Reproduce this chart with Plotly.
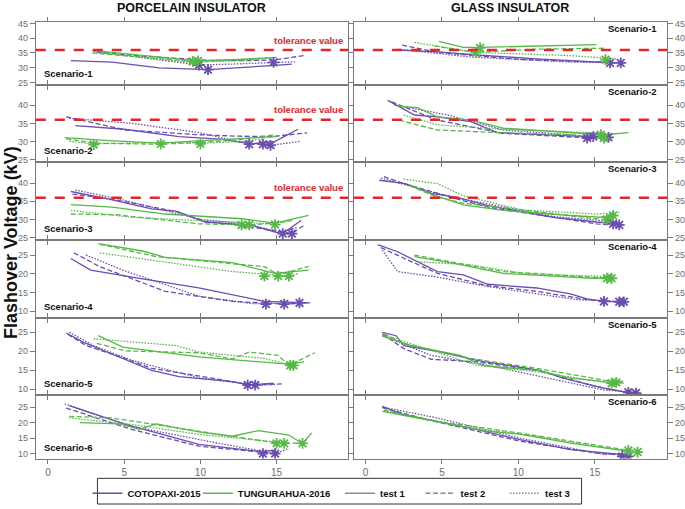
import plotly.graph_objects as go

# ---------------- DATA ----------------
# x: position on the shared 0-15 axis, y: flashover voltage (kV)
# Porcelain insulator
por1_cot_t1 = [(1.5, 32.4), (4.2, 31.9), (7.3, 29.9), (10.5, 29.3), (14.9, 30.8), (16.0, 31.2)]
por1_cot_t2 = [(3.2, 35.3), (6.0, 34.0), (9.0, 33.0), (10.5, 32.5), (13.0, 32.4), (14.8, 32.6), (16.8, 34.1)]
por1_cot_t3 = [(3.0, 35.5), (6.0, 33.6), (9.9, 30.9), (12.5, 31.3), (14.8, 31.8), (16.2, 32.0)]
por1_grn_t1 = [(2.9, 35.9), (5.5, 34.6), (8.0, 33.2), (9.8, 32.3), (12.5, 32.8), (15.0, 33.5)]
por1_grn_t2 = [(2.9, 35.0), (5.5, 33.8), (8.0, 32.8), (9.5, 32.1), (12.0, 32.4), (14.7, 33.4)]
por1_grn_t3 = [(3.4, 35.1), (6.0, 33.5), (8.0, 32.5), (9.5, 31.8), (12.0, 32.3), (14.0, 32.8)]
por1_cot_stars = [(9.9, 30.9), (10.5, 29.3), (14.8, 31.8)]
por1_grn_stars = [(9.5, 32.1), (9.85, 32.3)]

por2_cot_t1 = [(1.8, 34.4), (5.0, 33.4), (8.6, 31.4), (11.5, 30.6), (13.3, 29.4), (14.9, 30.1), (16.4, 33.4)]
por2_cot_t2 = [(1.2, 36.8), (5.1, 33.2), (9.9, 31.9), (12.5, 31.5), (14.7, 31.4), (17.0, 32.4)]
por2_cot_t3 = [(1.4, 36.4), (5.5, 35.0), (9.9, 32.5), (12.5, 30.0), (14.6, 29.0), (16.6, 30.1)]
por2_grn_t1 = [(1.1, 31.1), (4.0, 30.3), (7.3, 29.6), (9.9, 30.2), (12.5, 30.8), (15.0, 31.4)]
por2_grn_t2 = [(1.2, 30.8), (3.0, 29.6), (7.3, 29.3), (10.0, 29.8), (12.5, 30.5), (14.9, 31.9)]
por2_grn_t3 = [(1.4, 30.1), (3.0, 29.4), (7.4, 29.8), (10.0, 29.6), (12.5, 30.0), (14.2, 30.8)]
por2_cot_stars = [(13.2, 29.3), (14.1, 29.3), (14.6, 29.0)]
por2_grn_stars = [(3.0, 29.2), (7.4, 29.4), (10.0, 29.4)]

por3_cot_t1 = [(1.5, 37.7), (4.0, 35.6), (6.8, 32.9), (8.4, 32.3), (10.3, 29.3), (13.4, 28.4), (14.9, 26.5), (15.4, 26.1), (16.6, 29.7)]
por3_cot_t2 = [(1.6, 37.0), (4.2, 35.6), (8.6, 32.0), (10.3, 29.5), (13.4, 27.9), (16.0, 26.1), (16.8, 28.4)]
por3_cot_t3 = [(1.8, 38.1), (4.5, 35.8), (6.8, 33.4), (10.0, 30.0), (13.0, 28.8), (15.3, 26.5), (16.4, 27.9)]
por3_grn_t1 = [(1.5, 34.1), (4.2, 33.4), (7.7, 31.5), (12.7, 30.2), (14.9, 29.0), (17.1, 31.1)]
por3_grn_t2 = [(1.5, 31.5), (4.5, 31.3), (9.9, 28.8), (13.2, 28.5), (14.9, 29.0), (16.0, 29.7)]
por3_grn_t3 = [(1.5, 32.5), (5.5, 30.6), (9.9, 29.7), (12.5, 29.2), (14.9, 28.8), (15.8, 29.7)]
por3_cot_stars = [(15.4, 26.1), (16.0, 26.1)]
por3_grn_stars = [(12.7, 28.5), (13.2, 28.5), (14.9, 28.6)]

por4_cot_t1 = [(1.5, 24.1), (2.8, 21.0), (6.0, 18.8), (9.9, 16.2), (14.2, 12.6), (16.4, 12.2), (17.2, 12.2)]
por4_cot_t2 = [(1.7, 25.6), (3.4, 21.9), (7.7, 15.3), (12.1, 12.6), (15.5, 11.9), (17.0, 12.2)]
por4_cot_t3 = [(2.5, 25.0), (4.9, 21.0), (9.9, 14.0), (13.4, 12.0), (16.4, 12.2)]
por4_grn_t1 = [(3.3, 28.1), (6.2, 26.1), (7.7, 24.4), (12.1, 23.0), (14.9, 20.1), (17.1, 21.0)]
por4_grn_t2 = [(3.4, 27.9), (7.1, 24.6), (14.2, 21.9), (15.1, 19.7), (17.1, 22.0)]
por4_grn_t3 = [(3.4, 25.6), (7.7, 23.2), (12.1, 20.6), (15.8, 19.4), (16.4, 20.0)]
por4_cot_stars = [(14.3, 11.9), (15.5, 11.9), (16.5, 12.2)]
por4_grn_stars = [(14.2, 19.4), (15.1, 19.4), (15.8, 19.4)]

por5_cot_t1 = [(1.2, 24.8), (2.3, 22.4), (4.9, 18.1), (6.8, 15.0), (8.6, 13.3), (12.1, 12.0), (13.2, 11.1), (14.8, 11.6)]
por5_cot_t2 = [(1.3, 24.5), (2.5, 21.5), (4.9, 18.3), (6.8, 15.5), (10.8, 12.9), (13.2, 11.2), (15.4, 11.4)]
por5_cot_t3 = [(1.4, 25.0), (3.0, 21.5), (5.5, 17.6), (9.9, 13.0), (13.8, 11.0), (14.9, 11.3)]
por5_grn_t1 = [(3.3, 24.1), (4.9, 21.1), (9.9, 18.5), (13.2, 17.5), (15.8, 16.6), (16.8, 17.2)]
por5_grn_t2 = [(3.2, 22.1), (5.1, 20.1), (9.9, 19.6), (12.1, 18.0), (13.2, 19.8), (15.1, 18.9), (15.8, 16.3), (17.5, 19.6)]
por5_grn_t3 = [(3.0, 23.3), (8.4, 21.5), (9.9, 19.8), (14.2, 18.1), (16.0, 16.3)]
por5_cot_stars = [(13.1, 11.1), (13.6, 11.1)]
por5_grn_stars = [(15.9, 16.3), (16.1, 16.3)]

por6_cot_t1 = [(1.4, 25.5), (2.5, 23.6), (5.1, 19.4), (9.9, 13.0), (14.0, 10.6), (14.9, 11.1)]
por6_cot_t2 = [(1.2, 24.7), (5.5, 17.8), (9.9, 12.4), (14.0, 10.3), (15.0, 10.0)]
por6_cot_t3 = [(1.1, 26.0), (5.5, 18.8), (11.0, 13.5), (14.9, 10.0), (15.8, 11.7)]
por6_grn_t1 = [(2.1, 20.0), (4.7, 19.6), (6.0, 17.8), (7.1, 19.6), (9.9, 17.0), (12.1, 15.6), (13.8, 17.4), (15.8, 16.0), (16.7, 13.2), (17.3, 16.7)]
por6_grn_t2 = [(1.4, 22.0), (4.2, 21.5), (9.9, 17.2), (14.9, 13.5), (16.7, 13.3)]
por6_grn_t3 = [(1.4, 21.5), (5.5, 19.4), (9.9, 16.2), (14.2, 14.0), (15.5, 13.5)]
por6_cot_stars = [(14.1, 10.0), (14.9, 10.0)]
por6_grn_stars = [(15.0, 13.3), (15.5, 13.3), (16.7, 13.3)]

# Glass insulator
gla1_cot_t1 = [(2.1, 36.0), (4.7, 35.4), (7.3, 34.3), (11.2, 33.0), (16.0, 31.7)]
gla1_cot_t2 = [(2.4, 37.7), (4.7, 35.2), (10.1, 32.8), (15.6, 31.6), (16.7, 31.6)]
gla1_cot_t3 = [(2.1, 36.3), (6.9, 33.6), (13.4, 31.9), (16.2, 31.9)]
gla1_grn_t1 = [(4.8, 38.9), (6.4, 36.9), (7.5, 36.9), (15.1, 37.8)]
gla1_grn_t2 = [(4.5, 37.4), (7.2, 35.2), (11.2, 36.3), (15.6, 36.6)]
gla1_grn_t3 = [(3.2, 38.6), (7.1, 35.2), (13.4, 34.1), (16.4, 33.0)]
gla1_cot_stars = [(16.0, 31.6), (16.7, 31.6)]
gla1_grn_stars = [(7.5, 36.7), (7.2, 35.2), (15.7, 32.7)]

gla2_cot_t1 = [(1.45, 41.3), (3.2, 37.3), (4.7, 36.8), (6.9, 35.5), (8.6, 32.5), (14.5, 31.4), (16.0, 31.4)]
gla2_cot_t2 = [(1.7, 40.9), (4.7, 35.9), (9.0, 32.3), (14.7, 31.0), (15.6, 31.4)]
gla2_cot_t3 = [(1.9, 40.0), (5.4, 37.3), (9.0, 33.2), (13.4, 31.9), (15.1, 31.0)]
gla2_grn_t1 = [(2.1, 39.7), (3.4, 39.3), (4.7, 36.8), (6.9, 35.9), (9.0, 33.7), (14.5, 32.3), (15.6, 31.9), (17.2, 32.5)]
gla2_grn_t2 = [(2.2, 35.9), (4.7, 33.2), (8.0, 32.6), (13.4, 31.9), (15.6, 31.0)]
gla2_grn_t3 = [(2.5, 37.3), (4.7, 34.6), (9.0, 33.4), (15.6, 32.3)]
gla2_cot_stars = [(14.5, 31.0), (14.9, 31.4), (15.9, 31.2)]
gla2_grn_stars = [(15.4, 31.9), (15.6, 31.0)]

gla3_cot_t1 = [(0.9, 40.8), (2.6, 39.9), (4.3, 37.2), (6.0, 36.1), (8.0, 33.8), (12.3, 30.6), (15.1, 29.3), (16.6, 28.8)]
gla3_cot_t2 = [(1.2, 41.8), (2.5, 39.9), (6.0, 35.6), (8.0, 33.4), (15.1, 28.8), (16.6, 28.4)]
gla3_cot_t3 = [(1.0, 41.4), (4.3, 37.6), (6.0, 35.9), (12.3, 30.8), (16.6, 29.3)]
gla3_grn_t1 = [(2.8, 39.7), (4.3, 37.0), (6.4, 34.0), (9.0, 32.5), (13.4, 31.1), (15.6, 30.6), (16.2, 31.1)]
gla3_grn_t2 = [(2.9, 39.3), (4.7, 36.1), (6.4, 34.5), (13.4, 31.2), (15.1, 30.2), (16.2, 31.5)]
gla3_grn_t3 = [(2.5, 41.1), (4.7, 39.9), (6.4, 36.5), (10.3, 32.6), (15.1, 31.5), (16.7, 32.0)]
gla3_cot_stars = [(16.2, 28.8), (16.6, 28.5)]
gla3_grn_stars = [(15.8, 30.0), (16.2, 31.1)]

gla4_cot_t1 = [(0.8, 27.8), (2.1, 25.9), (4.7, 20.6), (6.4, 19.7), (8.0, 17.2), (11.2, 16.2), (13.4, 14.6), (14.5, 13.3), (15.6, 12.6), (16.9, 12.5)]
gla4_cot_t2 = [(1.0, 27.0), (4.7, 20.1), (8.0, 16.8), (11.2, 15.3), (14.5, 13.1), (16.9, 12.4)]
gla4_cot_t3 = [(1.1, 26.3), (2.1, 20.6), (4.7, 19.1), (8.0, 16.6), (13.8, 13.1), (16.6, 12.6)]
gla4_grn_t1 = [(3.2, 24.6), (5.8, 22.8), (9.0, 20.1), (14.9, 18.8), (16.2, 18.8)]
gla4_grn_t2 = [(3.2, 25.0), (6.9, 22.1), (9.0, 20.6), (16.0, 18.8)]
gla4_grn_t3 = [(3.4, 23.2), (6.9, 22.4), (10.3, 20.1), (15.6, 19.3)]
gla4_cot_stars = [(15.6, 12.6), (16.6, 12.5), (16.9, 12.5)]
gla4_grn_stars = [(15.8, 18.8), (16.1, 18.8)]

gla5_cot_t1 = [(1.1, 25.0), (2.0, 24.1), (2.5, 21.5), (4.7, 20.0), (7.3, 17.6), (11.4, 15.0), (12.9, 12.9), (15.6, 10.3), (17.1, 9.2), (17.9, 9.0)]
gla5_cot_t2 = [(1.1, 24.6), (2.5, 20.7), (4.3, 17.9), (7.3, 17.2), (11.2, 15.0), (15.1, 10.7), (17.3, 9.0)]
gla5_cot_t3 = [(1.1, 24.1), (4.3, 18.9), (8.0, 16.3), (15.6, 9.8), (17.7, 9.2)]
gla5_grn_t1 = [(1.1, 24.0), (3.0, 21.5), (6.2, 18.9), (7.7, 16.2), (11.2, 15.0), (13.4, 12.9), (15.6, 12.0), (16.9, 11.6)]
gla5_grn_t2 = [(1.2, 24.6), (2.5, 22.0), (6.9, 18.1), (11.2, 15.5), (15.6, 12.4), (17.0, 12.0)]
gla5_grn_t3 = [(1.2, 24.3), (4.7, 19.8), (7.3, 16.3), (11.2, 14.6), (16.0, 11.6)]
gla5_cot_stars = [(17.2, 9.2), (17.7, 9.0)]
gla5_grn_stars = [(16.1, 11.6), (16.4, 11.8)]

gla6_cot_t1 = [(1.1, 25.2), (2.5, 22.5), (4.7, 20.4), (6.9, 18.2), (10.1, 14.5), (13.4, 11.3), (16.9, 9.7), (17.3, 9.1)]
gla6_cot_t2 = [(1.1, 24.8), (4.0, 21.0), (6.9, 17.7), (10.1, 14.0), (15.1, 10.2), (17.1, 9.3)]
gla6_cot_t3 = [(1.1, 25.0), (4.7, 21.5), (10.1, 15.0), (15.6, 9.7), (17.0, 10.0)]
gla6_grn_t1 = [(1.1, 23.6), (4.7, 20.2), (8.0, 17.2), (10.1, 16.3), (13.4, 13.4), (17.3, 10.7)]
gla6_grn_t2 = [(1.2, 24.0), (4.7, 20.4), (10.1, 16.6), (13.4, 14.0), (17.3, 11.0)]
gla6_grn_t3 = [(1.2, 23.8), (6.9, 18.2), (11.2, 15.6), (17.0, 10.8)]
gla6_cot_stars = [(16.8, 9.1), (17.2, 9.1)]
gla6_grn_stars = [(17.2, 11.0), (17.8, 10.5)]

scenario_labels = ["Scenario-1", "Scenario-2", "Scenario-3", "Scenario-4", "Scenario-5", "Scenario-6"]
panel_titles = ["PORCELAIN INSULATOR", "GLASS INSULATOR"]
series_names = ["COTOPAXI-2015", "TUNGURAHUA-2016"]
test_names = ["test 1", "test 2", "test 3"]
x_tick_values = [0, 5, 10, 15]
tolerance_kv = 36
tolerance_rows = [1, 2, 3]

# ---------------- STYLE ----------------
W, H = 685, 509
PURPLE = "#6a4db0"
GREEN = "#56b947"
RED = "#e4252b"
AXC = "#7a7a7a"
TICKC = "#6e6e6e"
FONT = "Liberation Sans, Arial, sans-serif"

# pixel layout
col_px = [(36, 350), (356, 671)]
row_px = [(19.3, 82.7), (82.7, 161), (161, 240), (240, 319), (319, 397), (397, 461)]
x_ranges = [[-0.80, 19.68], [-0.76, 19.73]]
y_ranges = [[24.2, 45.5], [24.4, 45.6], [24.3, 45.8], [8.1, 29.0], [8.4, 28.7], [8.4, 28.8]]
y_ticks = [[25, 30, 35, 40, 45], [25, 30, 35, 40], [25, 30, 35, 40],
           [10, 15, 20, 25], [10, 15, 20, 25], [10, 15, 20, 25]]

panels = {
    ("por", 1): (por1_cot_t1, por1_cot_t2, por1_cot_t3, por1_grn_t1, por1_grn_t2, por1_grn_t3, por1_cot_stars, por1_grn_stars),
    ("por", 2): (por2_cot_t1, por2_cot_t2, por2_cot_t3, por2_grn_t1, por2_grn_t2, por2_grn_t3, por2_cot_stars, por2_grn_stars),
    ("por", 3): (por3_cot_t1, por3_cot_t2, por3_cot_t3, por3_grn_t1, por3_grn_t2, por3_grn_t3, por3_cot_stars, por3_grn_stars),
    ("por", 4): (por4_cot_t1, por4_cot_t2, por4_cot_t3, por4_grn_t1, por4_grn_t2, por4_grn_t3, por4_cot_stars, por4_grn_stars),
    ("por", 5): (por5_cot_t1, por5_cot_t2, por5_cot_t3, por5_grn_t1, por5_grn_t2, por5_grn_t3, por5_cot_stars, por5_grn_stars),
    ("por", 6): (por6_cot_t1, por6_cot_t2, por6_cot_t3, por6_grn_t1, por6_grn_t2, por6_grn_t3, por6_cot_stars, por6_grn_stars),
    ("gla", 1): (gla1_cot_t1, gla1_cot_t2, gla1_cot_t3, gla1_grn_t1, gla1_grn_t2, gla1_grn_t3, gla1_cot_stars, gla1_grn_stars),
    ("gla", 2): (gla2_cot_t1, gla2_cot_t2, gla2_cot_t3, gla2_grn_t1, gla2_grn_t2, gla2_grn_t3, gla2_cot_stars, gla2_grn_stars),
    ("gla", 3): (gla3_cot_t1, gla3_cot_t2, gla3_cot_t3, gla3_grn_t1, gla3_grn_t2, gla3_grn_t3, gla3_cot_stars, gla3_grn_stars),
    ("gla", 4): (gla4_cot_t1, gla4_cot_t2, gla4_cot_t3, gla4_grn_t1, gla4_grn_t2, gla4_grn_t3, gla4_cot_stars, gla4_grn_stars),
    ("gla", 5): (gla5_cot_t1, gla5_cot_t2, gla5_cot_t3, gla5_grn_t1, gla5_grn_t2, gla5_grn_t3, gla5_cot_stars, gla5_grn_stars),
    ("gla", 6): (gla6_cot_t1, gla6_cot_t2, gla6_cot_t3, gla6_grn_t1, gla6_grn_t2, gla6_grn_t3, gla6_cot_stars, gla6_grn_stars),
}

dashes = ["solid", "5px,2.5px", "1.5px,1.5px"]

fig = go.Figure()
layout = dict(
    width=W, height=H,
    margin=dict(l=0, r=0, t=0, b=0),
    paper_bgcolor="white", plot_bgcolor="white",
    font=dict(family=FONT, color="#222"),
    showlegend=True,
)
annotations = []
shapes = []


def px2x(p):
    return p / W


def px2y(p):
    return 1 - p / H


for ci, side in enumerate(["por", "gla"]):
    for ri in range(6):
        k = ri * 2 + ci + 1
        xa = "xaxis" if k == 1 else f"xaxis{k}"
        ya = "yaxis" if k == 1 else f"yaxis{k}"
        xr = "x" if k == 1 else f"x{k}"
        yr = "y" if k == 1 else f"y{k}"
        layout[xa] = dict(
            domain=[px2x(col_px[ci][0]), px2x(col_px[ci][1])],
            range=x_ranges[ci], anchor=yr,
            showline=True, linecolor=AXC, linewidth=1, mirror="ticks",
            ticks="outside", ticklen=4, tickcolor=AXC, tickwidth=1,
            tickvals=x_tick_values, showticklabels=(ri == 5),
            tickfont=dict(size=10, color=TICKC, family=FONT),
            showgrid=False, zeroline=False, fixedrange=True,
        )
        layout[ya] = dict(
            domain=[px2y(row_px[ri][1]), px2y(row_px[ri][0])],
            range=y_ranges[ri], anchor=xr, side="left" if ci == 0 else "right",
            showline=True, linecolor=AXC, linewidth=1, mirror="ticks",
            ticks="outside", ticklen=5, tickcolor=AXC, tickwidth=1,
            tickvals=y_ticks[ri],
            tickfont=dict(size=9, color=TICKC, family=FONT),
            showgrid=False, zeroline=False, fixedrange=True,
        )
        data = panels[(side, ri + 1)]
        lines = data[:6]
        for si, series in enumerate(lines):
            color = PURPLE if si < 3 else GREEN
            fig.add_trace(go.Scatter(
                x=[p[0] for p in series], y=[p[1] for p in series],
                mode="lines", xaxis=xr, yaxis=yr, showlegend=False,
                line=dict(color=color, width=1.3, dash=dashes[si % 3]),
                hoverinfo="skip",
            ))
        for stars, color in ((data[6], PURPLE), (data[7], GREEN)):
            fig.add_trace(go.Scatter(
                x=[p[0] for p in stars], y=[p[1] for p in stars],
                mode="markers", xaxis=xr, yaxis=yr, showlegend=False,
                marker=dict(symbol="asterisk-open", size=9, color=color,
                            line=dict(color=color, width=1.8)),
                hoverinfo="skip",
            ))
        # tolerance line
        if (ri + 1) in tolerance_rows:
            shapes.append(dict(
                type="line", xref=f"{xr} domain", yref=yr,
                x0=0, x1=1, y0=tolerance_kv, y1=tolerance_kv,
                line=dict(color=RED, width=2.5, dash="10px,9px"), layer="above",
            ))
            if ci == 0:
                annotations.append(dict(
                    text="<b>tolerance value</b>", xref=f"{xr} domain", yref=yr,
                    x=0.99, y=tolerance_kv, xanchor="right", yanchor="bottom",
                    yshift=2.5, showarrow=False,
                    font=dict(size=9.5, color=RED, family=FONT),
                ))
        # scenario label
        if ci == 0:
            annotations.append(dict(
                text=f"<b>{scenario_labels[ri]}</b>", xref=f"{xr} domain", yref=f"{yr} domain",
                x=0.02, y=0, xanchor="left", yanchor="middle", yshift=11.5,
                showarrow=False, font=dict(size=9.5, color="#111", family=FONT),
            ))
        else:
            annotations.append(dict(
                text=f"<b>{scenario_labels[ri]}</b>", xref=f"{xr} domain", yref=f"{yr} domain",
                x=0.975, y=1, xanchor="right", yanchor="middle", yshift=-6.5,
                showarrow=False, font=dict(size=9.5, color="#111", family=FONT),
            ))

# panel titles
for ci, title in enumerate(panel_titles):
    cx = [193, 513][ci]
    annotations.append(dict(
        text=f"<b>{title}</b>", xref="paper", yref="paper",
        x=px2x(cx), y=px2y(5.5), xanchor="center", yanchor="middle",
        showarrow=False, font=dict(size=12.5, color="#111", family=FONT),
    ))

# y axis title
annotations.append(dict(
    text="<b>Flashover Voltage (kV)</b>", xref="paper", yref="paper",
    x=px2x(11), y=px2y(242), xanchor="center", yanchor="middle", textangle=-90,
    showarrow=False, font=dict(size=18, color="#111", family=FONT),
))

# legend entries: one legend per entry so each sits where the reference has it
legend_text_px = [128, 239, 382, 463, 548]
legend_entries = [(series_names[0], PURPLE, "solid"), (series_names[1], GREEN, "solid"),
                  (test_names[0], "#8c8c8c", dashes[0]), (test_names[1], "#8c8c8c", dashes[1]),
                  (test_names[2], "#8c8c8c", dashes[2])]
for li, (name, color, dash) in enumerate(legend_entries):
    lname = "legend" if li == 0 else f"legend{li + 1}"
    fig.add_trace(go.Scatter(x=[None], y=[None], mode="lines", name=name,
                             line=dict(color=color, width=1.5, dash=dash), legend=lname))
    layout[lname] = dict(
        orientation="h", yanchor="middle", xanchor="left",
        x=px2x(legend_text_px[li] - 40), y=px2y(496),
        bgcolor="rgba(0,0,0,0)", borderwidth=0,
        font=dict(size=9.5, color="#111", family=FONT, weight="bold"),
        itemclick=False, itemdoubleclick=False,
    )

shapes.append(dict(type="rect", xref="paper", yref="paper",
                   x0=px2x(98), x1=px2x(585), y0=px2y(507), y1=px2y(481),
                   line=dict(color="#333", width=1), fillcolor="rgba(0,0,0,0)"))

layout["annotations"] = annotations
layout["shapes"] = shapes
fig.update_layout(**layout)
fig.write_html("out.html", config={"displayModeBar": False},
               post_script="document.body.style.margin='0';")
